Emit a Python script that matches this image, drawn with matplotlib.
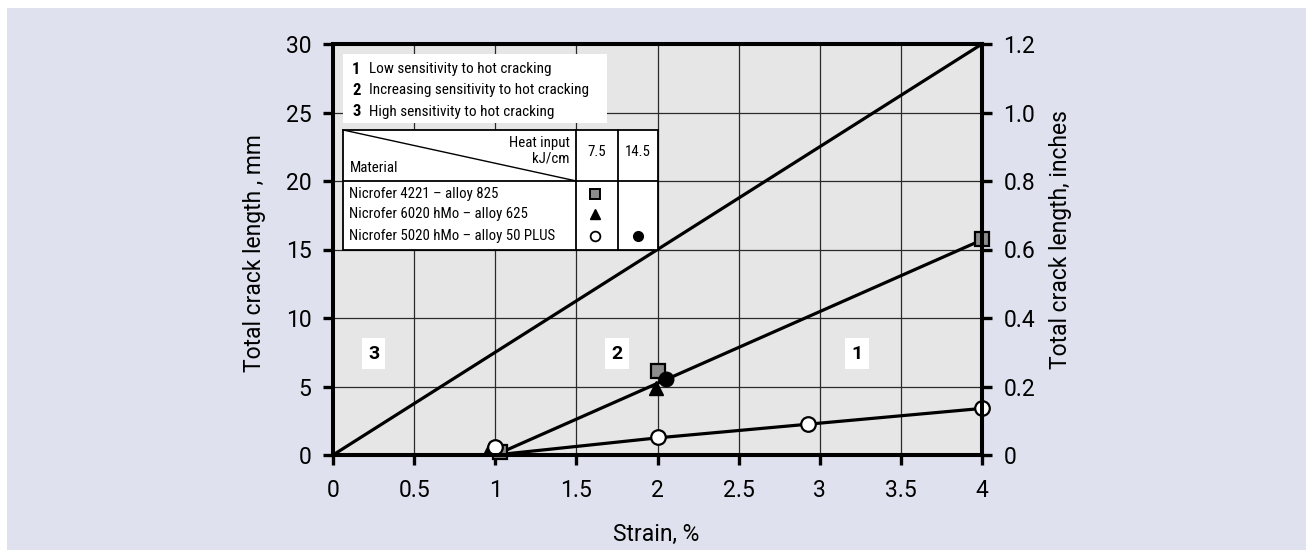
import matplotlib
matplotlib.use("Agg")
import matplotlib.pyplot as plt
from matplotlib import font_manager as fm
from matplotlib.patches import Rectangle
from matplotlib.lines import Line2D

# ---------------- data ----------------
strain_825 = [1.03, 2.0, 4.0]
crack_825 = [0.2, 6.1, 15.8]
strain_625 = [0.97, 1.99]
crack_625 = [0.5, 4.9]
strain_50plus = [1.0, 2.0, 2.93, 4.0]
crack_50plus = [0.6, 1.28, 2.25, 3.4]
strain_50plus_hi = [2.05]
crack_50plus_hi = [5.55]

boundary3_x = [0, 4]
boundary3_y = [0, 30]
boundary2_x = [1.0, 4.0]
boundary2_y = [0, 15.7]
line50_x = [1.0, 2.0, 2.93, 4.0]
line50_y = [0, 1.25, 2.25, 3.4]

x_ticks = [0, 0.5, 1, 1.5, 2, 2.5, 3, 3.5, 4]
x_tick_labels = ["0", "0.5", "1", "1.5", "2", "2.5", "3", "3.5", "4"]
y_ticks_mm = [0, 5, 10, 15, 20, 25, 30]
y_ticks_in = [0, 0.2, 0.4, 0.6, 0.8, 1.0, 1.2]
y_tick_labels_in = ["0", "0.2", "0.4", "0.6", "0.8", "1.0", "1.2"]

region_labels = ["3", "2", "1"]
region_x = [0.25, 1.75, 3.23]
region_y = 7.4

legend_lines = ["Low sensitivity to hot cracking",
                "Increasing sensitivity to hot cracking",
                "High sensitivity to hot cracking"]
materials = ["Nicrofer 4221 \u2013 alloy 825",
             "Nicrofer 6020 hMo \u2013 alloy 625",
             "Nicrofer 5020 hMo \u2013 alloy 50 PLUS"]
heat_inputs = ["7.5", "14.5"]

# ---------------- fonts ----------------
names = {f.name for f in fm.fontManager.ttflist}
NARROW = None
for cand in ["Liberation Sans Narrow", "Roboto Condensed", "Open Sans Condensed"]:
    if cand in names:
        NARROW = cand
        break
MAIN = "Roboto" if "Roboto" in names else "DejaVu Sans"
if NARROW is None:
    NARROW = MAIN
    leg_fs = 9.5
else:
    leg_fs = 11
plt.rcParams["font.family"] = [MAIN, "DejaVu Sans"]

W, H = 1310, 550
fig = plt.figure(figsize=(W / 100, H / 100), dpi=100)
fig.patch.set_facecolor("white")
fig.patches.append(Rectangle((7 / W, 0), (1306 - 7) / W, 1 - 8 / H,
                             transform=fig.transFigure, facecolor="#dfe1ee",
                             edgecolor="none", zorder=-10))

x0, x1, yb, yt = 333, 982, 455, 44
ax = fig.add_axes([x0 / W, 1 - yb / H, (x1 - x0) / W, (yb - yt) / H])
ax.set_facecolor("#e6e6e6")
ax.set_xlim(0, 4)
ax.set_ylim(0, 30)
ax.set_xticks(x_ticks)
ax.set_xticklabels(x_tick_labels)
ax.set_yticks(y_ticks_mm)
ax.grid(True, color="#2a2a2a", linewidth=0.9)
ax.set_axisbelow(True)
for s in ax.spines.values():
    s.set_linewidth(2.9)
tick_fs = 16.5
ax.tick_params(axis="both", direction="out", length=7.5, width=2.4,
               labelsize=tick_fs)
ax.tick_params(axis="x", pad=10)
ax.tick_params(axis="y", pad=8)

ax2 = ax.twinx()
ax2.set_ylim(0, 1.2)
ax2.set_yticks(y_ticks_in)
ax2.set_yticklabels(y_tick_labels_in)
ax2.spines["left"].set_visible(False)
for s in ax2.spines.values():
    s.set_linewidth(2.9)
ax2.tick_params(axis="y", direction="out", length=7.5, width=2.4,
                labelsize=tick_fs, pad=8)

# lines
lw = 2.3
ax.plot(boundary3_x, boundary3_y, color="black", lw=lw, zorder=3)
ax.plot(boundary2_x, boundary2_y, color="black", lw=lw, zorder=3)
ax.plot(line50_x, line50_y, color="black", lw=lw, zorder=3)

# markers
ax.plot(strain_825, crack_825, "s", ms=10, mfc="#8c8c8c", mec="black",
        mew=1.6, ls="none", zorder=4, clip_on=False)
ax.plot(strain_625, crack_625, "^", ms=10, mfc="black", mec="black",
        ls="none", zorder=5, clip_on=False)
ax.plot(strain_50plus, crack_50plus, "o", ms=10.5, mfc="white", mec="black",
        mew=1.6, ls="none", zorder=6, clip_on=False)
ax.plot(strain_50plus_hi, crack_50plus_hi, "o", ms=10.5, mfc="black",
        mec="black", ls="none", zorder=6, clip_on=False)

# region labels
for lab, xv in zip(region_labels, region_x):
    ax.text(xv, region_y, lab, ha="center", va="center", fontsize=14,
            fontweight="bold", zorder=7,
            bbox=dict(facecolor="white", edgecolor="none", pad=4.5))

# ---------------- legend (in data coords) ----------------
lz = 8
ax.add_patch(Rectangle((0.06, 24.27), 1.69 - 0.06, 29.27 - 24.27,
                       facecolor="white", edgecolor="none", zorder=lz))
leg_y = [28.17, 26.63, 25.07]
for i, (t, yv) in enumerate(zip(legend_lines, leg_y)):
    ax.text(0.118, yv, str(i + 1), ha="left", va="center", fontsize=leg_fs + 1,
            fontweight="bold", family=[NARROW, "DejaVu Sans"], zorder=lz + 1)
    ax.text(0.224, yv, t, ha="left", va="center", fontsize=leg_fs,
            family=[NARROW, "DejaVu Sans"], zorder=lz + 1)

tl, tr, ttop, tsep, tbot = 0.06, 2.0, 23.73, 20.0, 15.0
c1, c2 = 1.5, 1.755
ax.add_patch(Rectangle((tl, tbot), tr - tl, ttop - tbot, facecolor="white",
                       edgecolor="black", lw=1.3, zorder=lz))
for xs in [c1, c2]:
    ax.add_line(Line2D([xs, xs], [tbot, ttop], color="black", lw=1.3, zorder=lz + 1))
ax.add_line(Line2D([tl, tr], [tsep, tsep], color="black", lw=1.3, zorder=lz + 1))
ax.add_line(Line2D([tl, c1], [ttop, tsep], color="black", lw=1.0, zorder=lz + 1))

tfs = leg_fs - 0.3
tfam = [NARROW, "DejaVu Sans"]
ax.text(1.46, 22.8, "Heat input", ha="right", va="center", fontsize=tfs,
        family=tfam, zorder=lz + 1)
ax.text(1.46, 21.64, "kJ/cm", ha="right", va="center", fontsize=tfs,
        family=tfam, zorder=lz + 1)
ax.text(0.105, 20.95, "Material", ha="left", va="center", fontsize=tfs,
        family=tfam, zorder=lz + 1)
for hv, xc in zip(heat_inputs, [(c1 + c2) / 2, (c2 + tr) / 2]):
    ax.text(xc, 22.15, hv, ha="center", va="center", fontsize=tfs,
            family=tfam, zorder=lz + 1)
row_y = [19.08, 17.56, 15.97]
for m, yv in zip(materials, row_y):
    ax.text(0.1, yv, m, ha="left", va="center", fontsize=tfs, family=tfam,
            zorder=lz + 1)
mc1, mc2 = (c1 + c2) / 2 - 0.01, (c2 + tr) / 2
ax.plot([mc1], [row_y[0]], "s", ms=6.5, mfc="#8c8c8c", mec="black", mew=1.4,
        zorder=lz + 2)
ax.plot([mc1], [row_y[1]], "^", ms=7.5, mfc="black", mec="black", zorder=lz + 2)
ax.plot([mc1], [row_y[2]], "o", ms=7, mfc="white", mec="black", mew=1.3,
        zorder=lz + 2)
ax.plot([mc2], [row_y[2]], "o", ms=7, mfc="black", mec="black", zorder=lz + 2)

# axis labels
lab_fs = 16.5
fig.text(255 / W, 1 - 253 / H, "Total crack length , mm", rotation=90,
         ha="center", va="center", fontsize=lab_fs)
fig.text(1061 / W, 1 - 240 / H, "Total crack length, inches", rotation=90,
         ha="center", va="center", fontsize=lab_fs)
fig.text(656 / W, 1 - 534 / H, "Strain, %", ha="center", va="center",
         fontsize=lab_fs)

fig.savefig("out.png", dpi=100, facecolor=fig.get_facecolor())
